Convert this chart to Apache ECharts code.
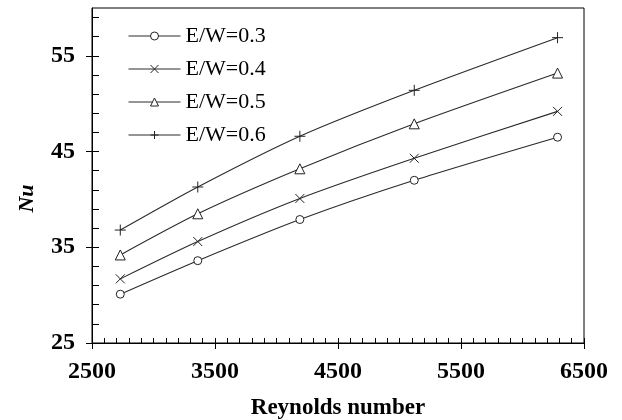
<!DOCTYPE html>
<html>
<head>
<meta charset="utf-8">
<script src="https://cdn.jsdelivr.net/npm/echarts@6/dist/echarts.min.js"></script>
<style>
  html, body { margin: 0; padding: 0; background: #fff; }
  #chart { width: 622px; height: 420px; }
</style>
</head>
<body>
<div id="chart"></div>
<script>
const reynolds = [2730, 3360, 4190, 5120, 6285]
const nu03 = [30.1, 33.6, 37.9, 42.0, 46.5]
const nu04 = [31.7, 35.6, 40.1, 44.3, 49.2]
const nu05 = [34.2, 38.5, 43.2, 47.9, 53.2]
const nu06 = [36.8, 41.3, 46.6, 51.4, 56.9]
const seriesNames = ['E/W=0.3', 'E/W=0.4', 'E/W=0.5', 'E/W=0.6']

const xMajor = [2500, 3500, 4500, 5500, 6500]
const yMajor = [25, 35, 45, 55]
const xMinor = []
for (let v = 2600; v < 6500; v += 100) xMinor.push(v)
const yMinor = [27, 29, 31, 33, 37, 39, 41, 43, 47, 49, 51, 53, 57, 59]

const FONT = 'Liberation Serif'
const ink = '#000'

const crossPath = 'path://M0 0L10 10M10 0L0 10'
const plusPath = 'path://M5 0L5 10M0 5L10 5'

function pairs(ys) {
    return reynolds.map((x, i) => [x, ys[i]])
}

// hollow markers are drawn as white-filled shapes with a thin border,
// so the legend doesn't thicken them like the built-in 'empty*' symbols
function makeSeries(name, ys, symbol, size) {
    return {
        name: name,
        type: 'line',
        smooth: 0.25,
        data: pairs(ys),
        symbol: symbol,
        symbolSize: size,
        showAllSymbol: true,
        lineStyle: {color: '#2a2a2a', width: 1.1},
        itemStyle: {color: '#fff', borderColor: '#222', borderWidth: 1},
        emphasis: {disabled: true},
        z: 3
    }
}

const chart = echarts.init(document.getElementById('chart'), null, {renderer: 'canvas'})

const option = {
    animation: false,
    textStyle: {fontFamily: FONT},
    grid: {
        left: 92, right: 38, top: 8, bottom: 77,
        outerBoundsMode: 'none', containLabel: false,
        show: true, borderColor: ink, borderWidth: 1, backgroundColor: 'transparent'
    },
    legend: {
        orient: 'vertical',
        left: 123,
        top: 20,
        itemWidth: 52,
        itemHeight: 10,
        itemGap: 11,
        data: seriesNames,
        lineStyle: {width: 1},
        itemStyle: {borderWidth: 1},
        textStyle: {fontFamily: FONT, fontSize: 22, color: ink},
        selectedMode: false
    },
    xAxis: [
        {
            type: 'value', min: 2500, max: 6500, position: 'bottom',
            name: 'Reynolds number', nameLocation: 'middle', nameGap: 54,
            nameTextStyle: {fontFamily: FONT, fontSize: 23, fontWeight: 'bold', color: ink},
            axisLine: {show: true, onZero: false, lineStyle: {color: ink, width: 1}},
            axisTick: {show: true, inside: false, length: 6, customValues: xMajor, lineStyle: {color: ink}},
            axisLabel: {customValues: xMajor, margin: 17, fontFamily: FONT, fontSize: 24, fontWeight: 'bold', color: ink,
                formatter: v => String(v)},
            splitLine: {show: false}
        },
        {
            type: 'value', min: 2500, max: 6500, position: 'bottom',
            axisLine: {show: false},
            axisTick: {show: true, inside: true, length: 5, customValues: xMinor.concat(xMajor), lineStyle: {color: ink}},
            axisLabel: {show: false},
            splitLine: {show: false}
        }
    ],
    yAxis: [
        {
            type: 'value', min: 25, max: 60, position: 'left',
            name: 'Nu', nameLocation: 'middle', nameGap: 54, nameRotate: 90,
            nameTextStyle: {fontFamily: FONT, fontSize: 22, fontWeight: 'bold', fontStyle: 'italic', color: ink, padding: [0, 46, 0, 0]},
            axisLine: {show: true, onZero: false, lineStyle: {color: ink, width: 1}},
            axisTick: {show: true, inside: false, length: 6, customValues: yMajor, lineStyle: {color: ink}},
            axisLabel: {customValues: yMajor, margin: 17, fontFamily: FONT, fontSize: 24, fontWeight: 'bold', color: ink},
            splitLine: {show: false}
        },
        {
            type: 'value', min: 25, max: 60, position: 'left',
            axisLine: {show: false},
            axisTick: {show: true, inside: true, length: 7, customValues: yMinor.concat(yMajor), lineStyle: {color: ink}},
            axisLabel: {show: false},
            splitLine: {show: false}
        }
    ],
    series: [
        makeSeries(seriesNames[0], nu03, 'circle', 8),
        makeSeries(seriesNames[1], nu04, crossPath, 9),
        makeSeries(seriesNames[2], nu05, 'triangle', 10),
        makeSeries(seriesNames[3], nu06, plusPath, 11)
    ]
}

chart.setOption(option)
</script>
</body>
</html>
